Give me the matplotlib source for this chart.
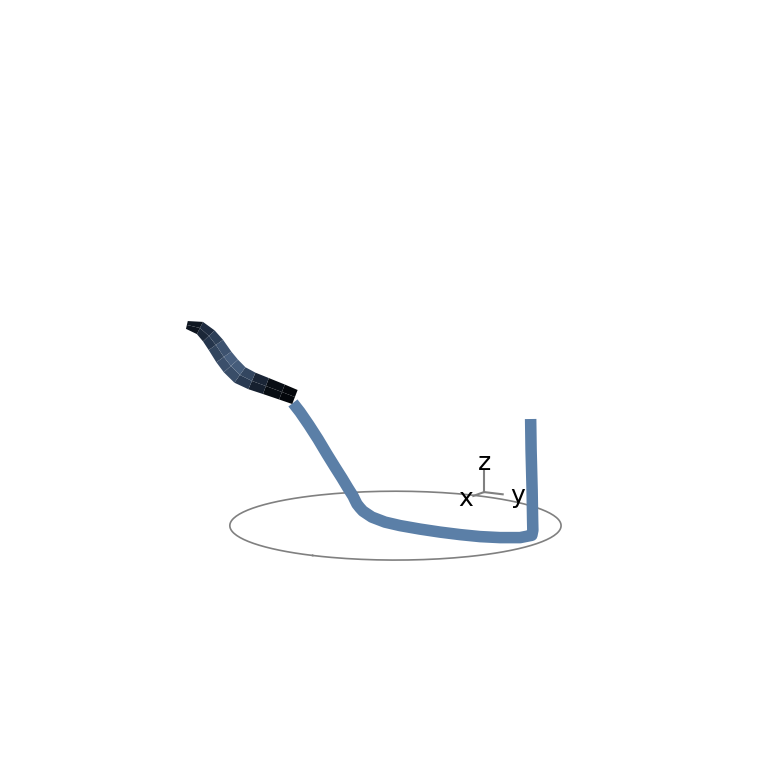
import numpy as np
import matplotlib
matplotlib.use("Agg")
import matplotlib.pyplot as plt
from matplotlib.colors import LinearSegmentedColormap
from matplotlib.ticker import NullLocator

# rod centre line (blue part), world coords
rod_x = [1.558, 1.556, 1.551, 1.548, 1.547, 1.560, 1.715, 1.815, 1.873, 1.890, 1.886, 1.861, 1.815,
         1.745, 1.602, 1.500, 1.397, 1.270, 1.135, 1.145, 1.155, 1.180, 1.210, 1.245, 1.285, 1.330,
         1.375, 1.420, 1.455]
rod_y = [1.437, 1.441, 1.450, 1.454, 1.456, 1.452, 1.406, 1.233, 1.035, 0.814, 0.581, 0.336, 0.079,
         -0.135, -0.369, -0.480, -0.591, -0.700, -0.811, -0.828, -0.845, -0.889, -0.941, -1.001,
         -1.071, -1.149, -1.227, -1.304, -1.365]
rod_z = [1.186, 0.869, 0.460, 0.153, 0.05, 0.0, 0.0, 0.0, 0.0, 0.0, 0.0, 0.0, 0.0,
         0.0, 0.0, 0.0, 0.0, 0.0, 0.0, 0.040, 0.082, 0.164, 0.266, 0.378,
         0.511, 0.665, 0.808, 0.941, 1.033]

# dark end piece (fin): centre line, half width and shade
fin_x = [1.445, 1.510, 1.590, 1.660, 1.720, 1.765, 1.800, 1.840, 1.875, 1.920, 1.985]
fin_y = [-1.348, -1.460, -1.599, -1.720, -1.824, -1.902, -1.963, -2.032, -2.093, -2.170, -2.283]
fin_z = [1.094, 1.145, 1.206, 1.258, 1.319, 1.411, 1.503, 1.626, 1.718, 1.799, 1.830]
fin_w = [0.075, 0.080, 0.085, 0.090, 0.095, 0.095, 0.092, 0.088, 0.080, 0.068, 0.040]
fin_shade = [0.0, 0.02, 0.15, 0.5, 0.75, 0.85, 0.8, 0.65, 0.5, 0.3, 0.05]

# ground circle
circle_center = (1.84, 0.04)
circle_r = 1.655

# little axis triad
triad_len = 0.215

elev, azim = 12, 30

fig = plt.figure(figsize=(7.69, 7.70), dpi=100)
ax = fig.add_axes([0, 0, 1, 1], projection='3d', computed_zorder=False)
ax.set_proj_type('ortho')
ax.view_init(elev=elev, azim=azim)
ax.set_box_aspect((1, 1, 1))

c = (0.4455, -0.7716, 1.20)
h = 2.285
ax.set_xlim(c[0] - h, c[0] + h)
ax.set_ylim(c[1] - h, c[1] + h)
ax.set_zlim(c[2] - h, c[2] + h)
ax.set_axis_off()
for a_ in (ax.xaxis, ax.yaxis, ax.zaxis):
    a_.set_major_locator(NullLocator())
    a_.set_minor_locator(NullLocator())

t = np.linspace(0, 2 * np.pi, 200)
ax.plot(circle_center[0] + circle_r * np.cos(t), circle_center[1] + circle_r * np.sin(t),
        np.zeros_like(t), color='#808080', lw=1.2, zorder=1)

# triad
for v, lab, pos in [((1, 0, 0), 'x', (0.36, 0, 0)), ((0, 1, 0), 'y', (0, 0.39, 0)), ((0, 0, 1), 'z', (0, 0, 0.30))]:
    ax.plot([0, v[0] * triad_len], [0, v[1] * triad_len], [0, v[2] * triad_len],
            color='#808080', lw=1.5, zorder=2)
    ax.text(*pos, lab, fontsize=18, ha='center', va='center', zorder=3)

ax.plot(rod_x, rod_y, rod_z, color='#5b7fa7', lw=8.3, solid_capstyle='butt',
        solid_joinstyle='round', zorder=4)

# fin surface: width taken across the curve as seen by the camera
el, az = np.radians(elev), np.radians(azim)
right = np.array([-np.sin(az), np.cos(az), 0.0])
depth = np.array([np.cos(az), np.sin(az), 0.0])
P = np.column_stack([fin_x, fin_y, fin_z])
T = np.gradient(P, axis=0)
su = T @ right
sv = T[:, 2] * np.cos(el) - (T @ depth) * np.sin(el)
nrm = np.hypot(su, sv)
nu, nv = -sv / nrm, su / nrm
off = nu[:, None] * right + (nv / np.cos(el))[:, None] * np.array([0, 0, 1.0])
off *= np.array(fin_w)[:, None]
top, bot = P + off, P - off
X = np.stack([top[:, 0], P[:, 0], bot[:, 0]])
Y = np.stack([top[:, 1], P[:, 1], bot[:, 1]])
Z = np.stack([top[:, 2], P[:, 2], bot[:, 2]])
cmap = LinearSegmentedColormap.from_list('fin', ['#03060a', '#26364d', '#5a7598'])
sh = np.array(fin_shade)
seg = 0.5 * (sh[:-1] + sh[1:])
fc = np.stack([cmap(seg * 0.85), cmap(seg)])
ax.plot_surface(X, Y, Z, facecolors=fc, shade=False, rstride=1, cstride=1,
                linewidth=0, antialiased=True, zorder=5)

fig.savefig('out.png', dpi=100)
